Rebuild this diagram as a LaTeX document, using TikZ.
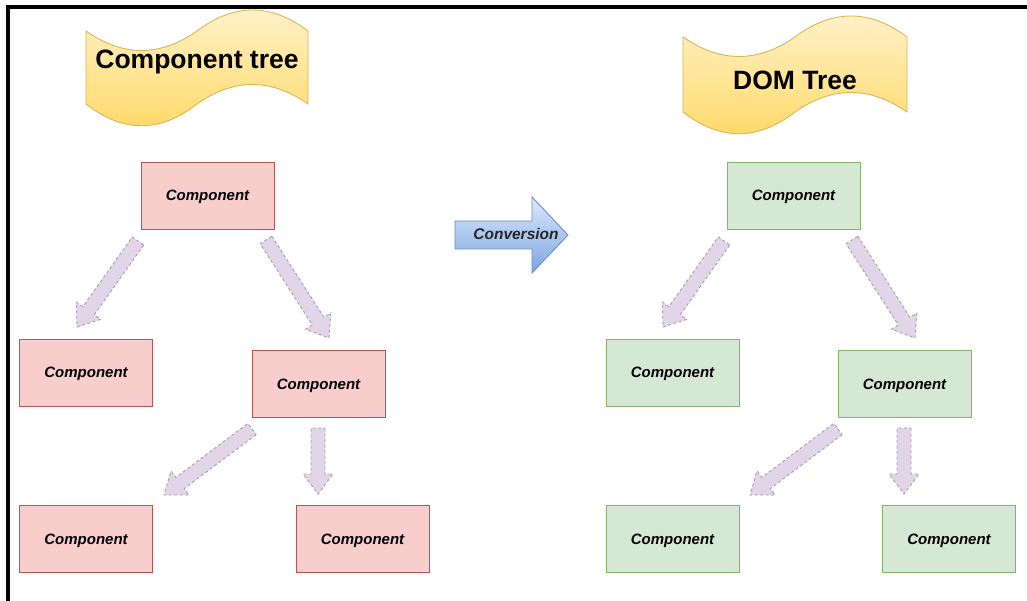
\documentclass[tikz,border=0pt]{standalone}
\usepackage{fontspec}
\setmainfont{Liberation Sans}
\usetikzlibrary{calc}
\definecolor{redfill}{HTML}{F8CECC}
\definecolor{redline}{HTML}{B85450}
\definecolor{greenfill}{HTML}{D5E8D4}
\definecolor{greenline}{HTML}{82B366}
\definecolor{purfill}{HTML}{E1D5E7}
\definecolor{purline}{HTML}{9673A6}
\definecolor{yeltop}{HTML}{FFF2CC}
\definecolor{yelbot}{HTML}{FFD966}
\definecolor{yelline}{HTML}{D6B656}
\definecolor{bluetop}{HTML}{DAE8FC}
\definecolor{bluebot}{HTML}{7EA6E0}
\definecolor{blueline}{HTML}{6C8EBF}
\tikzset{
 comp/.style={draw, line width=0.8pt, minimum width=133pt, minimum height=67pt, inner sep=0pt, text depth=0pt, font=\fontsize{15}{18}\selectfont\bfseries\itshape, text=black},
 redcomp/.style={comp, fill=redfill, draw=redline},
 greencomp/.style={comp, fill=greenfill, draw=greenline},
 fatarr/.style={fill=purfill, draw=purline!75, line width=0.9pt, dash pattern=on 3pt off 2.5pt, line join=miter},
 banner/.style={top color=yeltop, bottom color=yelbot, draw=yelline, line width=0.9pt},
 title/.style={font=\fontsize{26.5}{30}\selectfont\bfseries, text=black},
 convarrow/.style={top color=bluetop, bottom color=bluebot, draw=blueline, line width=0.9pt},
}
\newcommand\fatarrow[3]{%
 \coordinate (#3n) at ($(#2)!20pt!(#1)$);
 \draw[fatarr] ($(#1)!7pt!90:(#2)$) -- ($(#3n)!7pt!90:(#2)$) -- ($(#3n)!15pt!90:(#2)$) -- (#2) -- ($(#3n)!15pt!-90:(#2)$) -- ($(#3n)!7pt!-90:(#2)$) -- ($(#1)!7pt!-90:(#2)$) -- cycle;}
\newcommand\tape[4]{%
 \draw[banner] (#1,#3) .. controls ({#1+#2/6},{#3+26}) and ({#1+#2/3},{#3+26}) .. ({#1+#2/2},#3) .. controls ({#1+2*#2/3},{#3-28}) and ({#1+5*#2/6},{#3-28}) .. ({#1+#2},#3) -- ({#1+#2},#4) .. controls ({#1+5*#2/6},{#4-26}) and ({#1+2*#2/3},{#4-26}) .. ({#1+#2/2},#4) .. controls ({#1+#2/3},{#4+29}) and ({#1+#2/6},{#4+29}) .. (#1,#4) -- cycle;}
\begin{document}
\begin{tikzpicture}[x=1pt, y=-1pt]
\useasboundingbox (0,0) rectangle (1027,601);
\fill[white] (0,0) rectangle (1027,601);
% frame
\draw[line width=4pt, line join=miter] (1027,7) -- (8,7) -- (8,601);
% banners
\tape{86}{222}{31}{104}
\node[title] (t1) at (197,62) {Component tree};
\tape{683}{224}{37}{112}
\node[title] (t2) at (795,80) {DOM Tree};
% conversion arrow
\draw[convarrow] (455,221) -- (532,221) -- (532,197) -- (568,235) -- (532,273) -- (532,249) -- (455,249) -- cycle;
\node[font=\fontsize{15.5}{18}\selectfont\bfseries\itshape, text=black!85] (conv) at (516,234) {Conversion};
% left tree
\node[redcomp] (lr) at (207.5,195.5) {Component};
\node[redcomp] (ll) at (86,372.5) {Component};
\node[redcomp] (lm) at (318.5,384) {Component};
\node[redcomp] (lbl) at (86,539) {Component};
\node[redcomp] (lbr) at (362.5,539) {Component};
% right tree
\node[greencomp] (rr) at (793.5,195.5) {Component};
\node[greencomp] (rl) at (672.5,372.5) {Component};
\node[greencomp] (rm) at (904.5,384) {Component};
\node[greencomp] (rbl) at (672.5,539) {Component};
\node[greencomp] (rbr) at (949,539) {Component};
% arrow end coordinates
\coordinate (a1s) at (138,241); \coordinate (a1e) at (77,327);
\coordinate (a2s) at (266,240); \coordinate (a2e) at (329,338);
\coordinate (a3s) at (252,429); \coordinate (a3e) at (164,495);
\coordinate (a4s) at (318,428); \coordinate (a4e) at (318,494);
\coordinate (b1s) at (724,241); \coordinate (b1e) at (663,327);
\coordinate (b2s) at (852,240); \coordinate (b2e) at (915,338);
\coordinate (b3s) at (838,429); \coordinate (b3e) at (750,495);
\coordinate (b4s) at (904,428); \coordinate (b4e) at (904,494);
\fatarrow{a1s}{a1e}{a1}
\fatarrow{a2s}{a2e}{a2}
\fatarrow{a3s}{a3e}{a3}
\fatarrow{a4s}{a4e}{a4}
\fatarrow{b1s}{b1e}{b1}
\fatarrow{b2s}{b2e}{b2}
\fatarrow{b3s}{b3e}{b3}
\fatarrow{b4s}{b4e}{b4}
\end{tikzpicture}
\end{document}
